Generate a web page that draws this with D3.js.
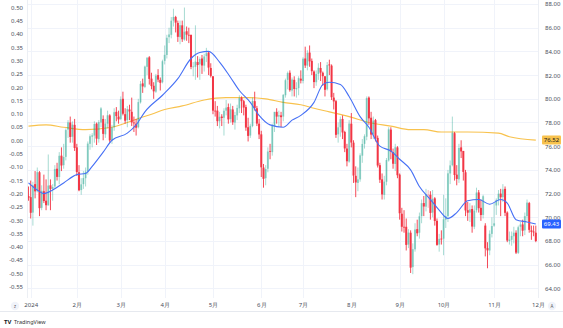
<!DOCTYPE html>
<html><head><meta charset="utf-8">
<script src="https://cdn.jsdelivr.net/npm/d3@7"></script>
<style>body{margin:0;background:#fff}svg{display:block;font-family:"Noto Sans","DejaVu Sans",sans-serif}</style>
</head><body><svg id="c" width="563" height="328"></svg>
<script>
// ---- data ----
const monthLabels = ["2024","2月","3月","4月","5月","6月","7月","8月","9月","10月","11月","12月"];
const monthStart = [1,22,42,62,84,106,125,147,169,189,212,232]; // bar index of first session
const leftTicks = [0.50,0.45,0.40,0.35,0.30,0.25,0.20,0.15,0.10,0.05,0.00,-0.05,-0.10,-0.15,-0.20,-0.25,-0.30,-0.35,-0.40,-0.45,-0.50,-0.55];
const rightTicks = [64,66,68,70,72,74,76,78,80,82,84,86,88];
const opens = [71.8,71.7,70.4,72.8,72.2,73.8,70.8,72.2,71.4,71.0,72.7,72.4,72.6,74.1,73.4,75.2,74.4,75.1,77.4,78.0,
76.8,77.8,75.9,73.8,72.3,72.8,73.3,73.9,76.2,76.8,76.9,77.9,76.6,78.0,78.3,77.0,77.9,78.6,76.5,77.6,
78.9,78.5,78.3,80.0,78.7,78.2,79.1,78.9,78.0,77.9,77.6,79.7,81.3,81.0,82.7,83.5,81.7,81.1,80.6,82.0,
81.6,81.4,83.2,83.7,85.2,85.4,86.6,86.9,86.4,85.2,86.2,85.0,85.7,85.4,85.4,82.7,82.7,83.1,82.9,83.4,
82.8,83.6,83.9,82.6,81.9,79.0,79.0,78.1,78.5,78.4,79.0,79.3,78.3,79.1,78.0,78.6,79.2,80.1,79.8,79.3,
77.6,76.9,77.7,79.8,79.2,77.9,77.0,74.2,73.3,74.1,75.6,75.5,77.7,78.9,78.5,78.6,78.5,80.3,81.6,82.2,
80.7,81.6,80.8,80.9,81.7,81.5,83.4,82.8,83.9,83.2,82.3,81.4,82.1,82.6,82.2,81.9,80.8,82.9,82.8,80.1,
79.8,77.0,77.6,78.3,77.2,75.8,74.7,77.9,76.3,73.5,72.9,73.2,75.2,76.2,76.8,80.1,78.4,77.0,78.2,76.7,
74.4,73.2,71.9,73.0,74.8,77.4,75.5,74.5,75.9,73.6,70.3,69.2,69.2,67.7,68.7,65.8,67.3,69.0,68.7,70.1,
71.2,70.9,71.9,71.9,70.4,71.6,69.7,67.7,68.2,68.2,69.8,70.1,73.7,74.4,77.1,73.6,73.2,75.9,75.6,73.8,
70.6,70.4,70.7,69.2,70.6,72.1,70.8,70.2,69.3,67.4,67.2,68.6,69.3,71.0,71.5,72.0,71.7,72.4,70.4,68.0,
68.1,68.4,68.7,67.0,69.2,69.4,68.9,70.1,71.2,68.9,68.8,68.7];
const highs = [72.6,73.1,73.0,73.9,74.2,73.9,72.7,73.6,73.2,75.3,73.2,72.8,74.4,74.6,75.5,75.9,76.2,77.5,78.2,78.5,
78.1,78.3,76.2,74.4,73.3,73.9,74.2,76.4,77.0,77.1,78.1,78.0,78.2,79.3,78.6,78.3,79.0,78.7,77.8,79.2,
79.3,79.0,80.2,80.6,79.2,79.4,79.5,80.1,78.5,78.3,80.0,81.5,81.7,82.8,83.5,83.6,82.2,81.4,82.1,82.5,
81.8,83.3,84.5,85.4,86.0,86.9,87.6,87.0,86.6,86.6,86.6,87.7,86.1,86.0,85.4,83.1,86.2,83.6,83.5,83.7,
83.8,84.3,84.0,83.0,81.9,79.8,79.4,78.9,78.7,79.2,79.9,79.6,79.6,79.4,78.9,79.5,80.3,80.2,79.9,79.5,
78.4,77.9,80.1,80.6,79.4,78.3,77.3,74.5,74.4,75.9,76.2,77.9,78.9,79.2,79.0,78.9,80.4,81.7,82.3,82.4,
81.8,81.9,81.4,81.9,82.4,83.5,84.4,84.1,84.5,83.4,82.4,82.4,83.0,83.1,82.3,81.9,83.1,83.3,82.9,80.5,
79.9,78.0,78.5,78.6,77.3,76.2,78.2,78.8,76.5,74.3,74.2,75.4,76.6,77.0,80.2,80.2,78.9,78.5,78.3,76.9,
74.6,73.7,73.5,75.0,77.6,77.6,75.8,76.2,76.0,73.7,70.8,70.6,69.9,69.0,68.9,67.8,69.5,69.8,70.4,71.5,
71.8,72.4,72.3,72.2,72.3,71.7,69.9,68.6,68.9,71.9,71.6,74.0,74.8,78.5,77.2,74.4,76.2,76.5,75.6,74.0,
71.3,71.2,71.0,71.0,72.5,72.3,71.5,71.9,69.5,67.9,68.9,70.0,71.2,71.6,72.3,72.4,72.8,72.6,70.5,68.8,
68.8,69.2,68.9,69.3,69.6,69.8,70.4,71.5,71.3,69.3,69.3,69.3];
const lows = [71.4,69.9,69.3,71.6,72.1,70.1,70.6,71.2,70.6,71.0,70.6,71.4,72.4,73.1,72.8,73.9,74.1,74.8,76.7,76.3,
76.3,75.6,73.5,72.2,71.9,72.4,72.6,73.6,75.7,75.9,76.3,76.1,76.3,77.6,76.5,76.7,77.5,76.3,76.2,77.3,
78.1,77.9,78.2,78.6,77.9,77.6,78.2,77.7,77.2,76.9,77.5,79.6,80.5,80.9,82.0,81.2,80.8,80.0,80.5,81.4,
80.7,81.3,82.9,83.4,84.7,85.1,86.1,85.6,84.8,84.6,84.8,84.9,84.9,84.7,82.5,81.9,81.6,81.8,81.6,82.1,
82.3,83.1,82.0,81.8,78.7,78.5,77.7,77.5,77.7,76.9,78.6,77.9,78.0,77.8,77.4,78.2,78.8,78.8,78.6,77.3,
76.4,76.7,77.6,79.0,77.7,76.6,73.4,72.5,72.7,73.8,74.9,75.2,77.2,77.9,77.6,77.6,78.1,80.1,80.8,80.6,
80.2,80.2,80.1,80.3,81.3,81.3,82.6,82.4,82.7,82.0,80.9,81.1,81.6,81.5,81.1,80.2,80.7,82.0,79.9,79.1,
76.7,76.3,76.8,76.6,75.5,74.3,74.6,75.9,72.9,71.7,72.2,73.0,74.6,75.8,76.5,77.8,76.6,76.6,76.4,74.2,
72.9,71.5,71.5,72.7,74.7,74.9,74.1,73.9,73.3,69.8,68.8,68.7,67.2,67.4,65.3,65.2,67.1,68.4,68.2,69.5,
70.1,70.5,70.8,69.8,70.0,69.3,67.6,67.1,67.7,66.8,69.1,69.6,72.8,74.3,73.1,72.7,72.9,75.0,73.1,70.1,
69.7,69.6,68.7,69.0,70.4,70.4,69.7,69.9,66.7,65.7,66.8,68.3,69.2,70.2,71.0,70.1,71.3,70.1,67.9,67.7,
67.6,67.8,66.9,66.9,68.4,68.4,68.5,69.7,68.7,68.1,68.4,67.9];
const closes = [71.65,70.38,72.70,72.19,73.81,70.77,72.24,71.37,71.02,72.68,72.40,72.56,74.08,73.41,75.19,74.37,75.09,77.36,78.01,76.78,
77.82,75.85,73.82,72.28,72.78,73.31,73.86,76.22,76.84,76.92,77.87,76.64,78.03,79.19,77.04,77.91,78.61,76.49,77.58,78.87,
78.54,78.26,79.97,78.74,78.15,79.13,78.93,78.01,77.93,77.56,79.72,81.26,81.04,82.72,83.47,81.68,81.07,80.63,81.95,81.62,
81.35,83.17,83.71,85.15,85.43,86.59,86.91,86.43,85.23,86.21,85.02,85.66,85.41,85.36,82.69,82.73,83.14,82.85,83.36,82.81,
83.57,83.85,82.63,81.93,79.00,78.95,78.11,78.48,78.38,78.99,79.26,78.26,79.12,78.02,78.63,79.23,80.06,79.80,79.26,77.57,
76.87,77.72,79.83,79.23,77.91,76.99,74.22,73.25,74.07,75.55,75.53,77.74,78.90,78.50,78.62,78.45,80.33,81.57,82.17,80.73,
81.63,80.83,80.90,81.74,81.54,83.38,82.81,83.88,83.16,82.33,81.41,82.10,82.62,82.21,81.91,80.76,82.85,82.82,80.13,79.78,
76.96,77.59,78.28,77.16,75.81,74.73,77.91,76.31,73.52,72.94,73.20,75.23,76.19,76.84,80.06,78.35,76.98,78.16,76.65,74.37,
73.17,71.93,73.01,74.83,77.42,75.53,74.52,75.91,73.55,70.34,69.20,69.15,67.67,68.71,65.75,67.31,68.97,68.65,70.09,71.19,
70.91,71.95,71.92,70.37,71.56,69.69,67.67,68.18,68.17,69.83,70.10,73.71,74.38,77.14,73.57,73.24,75.85,75.56,73.83,70.58,
70.39,70.67,69.22,70.56,72.09,70.77,70.19,71.78,67.38,67.21,68.61,69.26,69.49,71.47,71.99,71.69,72.36,70.38,68.04,68.12,
68.43,68.70,67.02,69.16,69.39,68.87,70.10,71.24,68.94,68.77,68.72,68.00];
// moving averages: [bar index, value]
const fastMA = [[0,72.9],[4,72.3],[7,72.0],[11,72.3],[16,72.9],[22,73.6],[26,73.7],[29,74.3],[34,75.5],[38,76.5],[45,77.1],[49,77.8],[53,78.9],[61,80.3],[68,81.7],[74,83.4],[78,83.9],[82,84.0],[87,83.1],[92,81.8],[96,80.7],[101,79.7],[105,78.6],[110,77.8],[116,77.6],[120,78.2],[124,78.6],[130,79.7],[134,81.2],[137,81.4],[142,81.2],[146,80.2],[151,78.5],[155,77.6],[160,76.0],[165,75.6],[169,74.9],[174,74.0],[178,72.6],[183,71.5],[187,70.6],[191,69.9],[195,70.4],[200,71.4],[205,71.5],[210,71.1],[215,71.5],[218,71.2],[222,69.8],[227,69.6],[231,69.43]];
const slowMA = [[0,77.7],[8,77.8],[16,77.6],[26,77.4],[38,77.6],[45,78.0],[51,78.4],[56,78.7],[62,79.1],[70,79.4],[80,79.9],[90,80.1],[100,80.1],[108,80.0],[116,79.7],[124,79.5],[130,79.2],[137,78.9],[146,78.5],[155,78.0],[165,77.7],[174,77.4],[180,77.4],[188,77.2],[200,77.2],[214,77.1],[219,76.8],[231,76.52]];
const fastLast = 69.43, slowLast = 76.52;

// ---- chart ----
const svg = d3.select("#c");
const W = 563, H = 328;
const plotL = 27, plotR = 538, plotB = 298;
const x = d3.scaleLinear().domain([1,232]).range([30.7,538]);
const y = d3.scaleLinear().domain([64,88]).range([288.4,4]);
const yL = d3.scaleLinear().domain([-0.55,0.50]).range([286.6,7.3]);
const UP = "#089981", DN = "#f23645";
const gridC = "#f0f3fa";

// grid
svg.append("g").selectAll("line").data(rightTicks).join("line")
  .attr("x1",plotL).attr("x2",plotR).attr("y1",d=>Math.round(y(d))+0.5).attr("y2",d=>Math.round(y(d))+0.5)
  .attr("stroke",gridC).attr("stroke-width",1);
svg.append("g").selectAll("line").data(monthStart).join("line")
  .attr("x1",d=>Math.round(x(d))+0.5).attr("x2",d=>Math.round(x(d))+0.5).attr("y1",0).attr("y2",plotB)
  .attr("stroke",gridC).attr("stroke-width",1);

// slow MA under candles
const line = d3.line().x(d=>x(d[0])).y(d=>y(d[1])).curve(d3.curveMonotoneX);
svg.append("path").datum(slowMA).attr("d",line).attr("fill","none").attr("stroke","#f8c24d").attr("stroke-width",1.2);

// candles
const bars = closes.map((c,i)=>({i,o:opens[i],h:highs[i],l:lows[i],c,prev:i>0?closes[i-1]:opens[i]}));
const g = svg.append("g");
const col = b => b.c >= b.prev ? UP : DN;
const hollow = b => b.c > b.o;
g.selectAll("line").data(bars).join("line")
  .attr("x1",b=>x(b.i)).attr("x2",b=>x(b.i)).attr("y1",b=>y(b.h)).attr("y2",b=>y(b.l))
  .attr("stroke",col).attr("stroke-width",0.9).attr("stroke-opacity",b=>hollow(b)?0.4:1);
g.selectAll("rect").data(bars).join("rect")
  .attr("x",b=>x(b.i)-1).attr("width",2)
  .attr("y",b=>y(Math.max(b.o,b.c))).attr("height",b=>Math.max(0.8,Math.abs(y(b.o)-y(b.c))))
  .attr("fill",col).attr("fill-opacity",b=>hollow(b)?0.35:1);

// fast MA
svg.append("path").datum(fastMA).attr("d",line).attr("fill","none").attr("stroke","#4670f5").attr("stroke-width",1.1);

// separators
svg.append("line").attr("x1",plotL+0.5).attr("x2",plotL+0.5).attr("y1",0).attr("y2",plotB).attr("stroke","#eceff4");
svg.append("line").attr("x1",plotR+0.5).attr("x2",plotR+0.5).attr("y1",0).attr("y2",plotB).attr("stroke","#eceff4");
svg.append("line").attr("x1",0).attr("x2",W).attr("y1",311.5).attr("y2",311.5).attr("stroke","#e6e9ef");

// axes
const fs = "6px", tc = "#4a4e5a";
const axL = svg.append("g").attr("transform",`translate(${plotL-1},0)`)
  .call(d3.axisLeft(yL).tickValues(leftTicks).tickSize(0).tickPadding(3).tickFormat(d=>d.toFixed(2)));
const axR = svg.append("g").attr("transform",`translate(${plotR+4},0)`)
  .call(d3.axisRight(y).tickValues(rightTicks).tickSize(0).tickPadding(3).tickFormat(d=>d.toFixed(2)));
const axB = svg.append("g").attr("transform",`translate(0,${plotB})`)
  .call(d3.axisBottom(x).tickValues(monthStart).tickSize(0).tickPadding(5).tickFormat((d,i)=>monthLabels[i]));
[axL,axR,axB].forEach(a=>{a.select(".domain").remove(); a.selectAll("text").attr("font-size",fs).attr("fill",tc).attr("font-family","Noto Sans, DejaVu Sans, sans-serif");});

// last value labels
[[slowLast,"#f8c24d","#1a1a1a"],[fastLast,"#2962ff","#ffffff"]].forEach(([v,bg,fg])=>{
  const yy = y(v);
  svg.append("rect").attr("x",plotR+4).attr("y",yy-4.5).attr("width",19).attr("height",9).attr("rx",1).attr("fill",bg);
  svg.append("text").attr("x",plotR+13.5).attr("y",yy).attr("dy","0.35em").attr("text-anchor","middle")
    .attr("font-size",fs).attr("fill",fg).text(v.toFixed(2));
});

// buttons
[[15,306,"z"],[552,306,"A"]].forEach(([cx,cy,t])=>{
  svg.append("circle").attr("cx",cx).attr("cy",cy).attr("r",4.2).attr("fill","#f0f3fa");
  svg.append("text").attr("x",cx).attr("y",cy).attr("dy","0.35em").attr("text-anchor","middle").attr("font-size","4.5px").attr("fill","#555").text(t);
});

// logo
svg.append("text").attr("x",4).attr("y",323.5).attr("font-size","6px").attr("font-weight","bold").attr("fill","#131722").text("TV");
svg.append("text").attr("x",14).attr("y",323.5).attr("font-size","5.5px").attr("fill","#333").text("TradingView");
</script></body></html>
